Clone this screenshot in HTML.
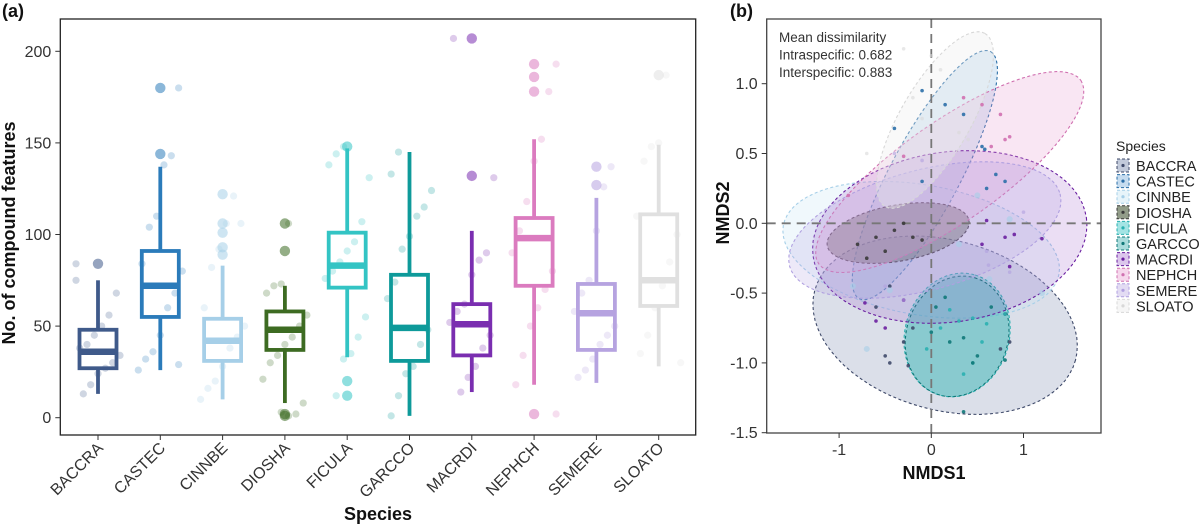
<!DOCTYPE html>
<html><head><meta charset="utf-8">
<style>
html,body{margin:0;padding:0;background:#fff;}
svg{display:block;font-family:"Liberation Sans",Arial,sans-serif;}
</style></head>
<body>
<svg id="fig" width="1200" height="526" viewBox="0 0 1200 526" xmlns="http://www.w3.org/2000/svg">
<g id="pa"></g>
<g id="pb"></g>
</svg>
<script>
const NS="http://www.w3.org/2000/svg";
// ---------- Panel (a) data ----------
const species=["BACCRA","CASTEC","CINNBE","DIOSHA","FICULA","GARCCO","MACRDI","NEPHCH","SEMERE","SLOATO"];
const colors=["#3f5a8a","#2b7bba","#a6cfe8","#3d6b22","#33c4c4","#0e9a9a","#7a2eb0","#db7bbf","#b6a3e0","#e0e0e0"];
const whiskHigh=[75,137,83,72,147,145,102,152,120,149];
const q3=[48,91,54,58,101,78,62,109,73,111];
const medians=[36,72,42,48,83,49,51,98,57,75];
const q1=[27,55,31,37,71,31,34,72,37,61];
const whiskLow=[13,26,10,8,33,1,14,18,19,28];
const outliers=[[84],[180,144],[122,106,101,93,89],[106,91,2,1],[148,20,12],[],[207,132],[193,186,178,2],[137,127],[187]];
const jitter=[[75,68,56,50,45,40,38,34,30,27,24,18,13,84],
[180,143,138,110,104,84,80,68,60,45,36,32,26,29],
[121,106,92,82,60,50,44,38,28,20,16,10,106],
[106,73,72,68,56,50,44,40,34,30,21,8,2,1,3],
[148,144,138,131,107,96,91,85,80,76,55,44,35,32,12],
[145,133,124,115,110,99,92,74,65,48,40,28,24,12,1],
[207,131,90,86,78,62,58,52,45,38,28,22,14],
[193,178,152,140,118,102,90,80,70,60,50,34,18,2],
[137,126,102,75,68,58,50,45,40,32,26,22],
[187,150,148,140,110,100,85,72,60,45,35,30]];
const yTicks=[0,50,100,150,200];
// ---------- Panel (b) data ----------
const nxTicks=[-1,0,1];
const nyTicks=[-1.5,-1.0,-0.5,0.0,0.5,1.0];
const ellCenters=[[0.15,-0.73],[-0.07,0.345],[-0.11,-0.19],[-0.36,-0.07],[0.28,-0.80],[0.28,-0.81],[0.20,-0.098],[0.20,0.367],[-0.07,-0.048],[0.04,0.74]];
const ellU=[[1.414,-0.25],[0.713,0.885],[1.495,-0.174],[0.769,0.09],[0.195,0.43],[0.19,0.42],[1.482,0.138],[1.421,0.657],[1.467,0.259],[0.542,0.62]];
const ellV=[[-0.239,-0.588],[0.335,-0.118],[-0.122,-0.458],[0.053,-0.198],[0.542,-0.107],[0.53,-0.10],[0.128,-0.603],[0.311,-0.294],[0.168,-0.415],[0.329,-0.125]];
const ellFill=["#5a6e9a","#5b9bd0","#c4e3f2","#4a5a3a","#33c4c4","#2aa8a8","#9b5cc8","#e89bd0","#b8a8e2","#eeeeee"];
const ellStroke=["#3f4a6a","#2b6fa8","#a6cfe8","#3a3a3a","#2ab0b0","#107878","#6a1fa0","#d070b0","#b0a0e0","#d8d8d8"];
const ellOpacity=[0.22,0.2,0.25,0.45,0.3,0.25,0.2,0.25,0.25,0.35];
const nmdsX=[[-0.45,-0.6,-0.2,-0.3,-0.45,0.8,0.85,0.75,-0.25,-0.5],
[-0.4,0.55,0.58,-0.1,0.15,-0.1,0.6,0.7,0.8,0.35],
[-0.7,-0.45,1.2,0.63,0.3,-0.85,0.5,0.85],
[-0.8,-0.6,-0.4,-0.2,-0.5,-0.3,-0.1,-0.7],
[0.1,0.3,0.45,0.6,0.55,0.35,0.2,0.8,0.45,-0.05],
[0.0,0.2,0.35,0.5,0.65,0.35,0.15,0.45,0.8,0.05],
[-0.72,-0.6,-0.5,-0.3,0.55,0.8,0.85,0.9,0.6,1.2],
[-0.9,0.75,0.8,0.85,0.65,0.55,0.35,-0.3],
[-0.5,-0.3,0.6,0.62,0.85,1.0,-0.1,-0.4],
[-0.2,0.1,0.3,0.4,-0.1,-0.7,0.0,-0.3]];
const nmdsY=[[-0.45,-0.6,-0.75,-0.85,-1.0,-0.65,-0.85,-0.9,-1.02,-0.95],
[0.68,0.55,0.53,0.95,0.85,0.3,0.25,0.35,0.3,0.78],
[-0.9,-0.48,-0.5,-0.4,-0.15,-0.45,0.2,0.03],
[-0.15,-0.1,-0.05,-0.1,-0.2,0.0,-0.12,-0.25],
[-0.75,-0.7,-0.68,-0.72,-0.85,-1.08,-0.62,-0.65,-1.0,-0.9],
[-0.78,-0.85,-0.82,-0.95,-0.6,-1.35,-0.53,-1.0,-0.98,-0.6],
[-0.57,-0.7,-0.75,-0.55,-0.15,-0.1,-0.31,-0.08,0.02,-0.11],
[0.2,0.78,0.6,0.62,0.55,0.85,0.9,0.48],
[-0.45,-0.55,-0.2,-0.3,-0.35,0.08,0.45,0.5],
[0.9,1.1,0.65,0.6,0.75,0.5,1.2,1.25]];
const legendTitle="Species";

const pa=document.getElementById('pa'), pb=document.getElementById('pb');
function mk(tag,attrs,parent,text){const e=document.createElementNS(NS,tag);for(const k in attrs)e.setAttribute(k,attrs[k]);if(text!==undefined)e.textContent=text;parent.appendChild(e);return e;}

// ---------- Panel (a) ----------
const A={l:60.3,r:695.7,t:19,b:435};
const ay=v=>417.7-v*1.832;
const ax=i=>98+i*62.3;
let t=mk('text',{x:2,y:17,'font-size':18,'font-weight':'bold',fill:'#111'},pa,'(a)');


let fr=mk('rect',{x:A.l,y:A.t,width:A.r-A.l,height:A.b-A.t,fill:'none',stroke:'#222','stroke-width':1.3},pa);


yTicks.forEach(v=>{
  mk('line',{x1:A.l-5,x2:A.l,y1:ay(v),y2:ay(v),stroke:'#333','stroke-width':1},pa);
  const tl=mk('text',{x:A.l-9,y:ay(v)+5.5,'font-size':16,'text-anchor':'end',fill:'#333'},pa,String(v));
  
  
});
species.forEach((s,i)=>{
  const x=ax(i),c=colors[i];
  const g=mk('g',{},pa);
  
  
  jitter[i].forEach((v,j)=>{
    const off=(((j*37+i*11)%13)/12-0.5)*44;
    mk('circle',{cx:x+off,cy:ay(v),r:3.6,fill:c,'fill-opacity':0.25},g);
  });
  outliers[i].forEach(v=>mk('circle',{cx:x,cy:ay(v),r:5.2,fill:c,'fill-opacity':0.55},g));
  mk('line',{x1:x,x2:x,y1:ay(whiskHigh[i]),y2:ay(q3[i]),stroke:c,'stroke-width':3.8},g);
  mk('line',{x1:x,x2:x,y1:ay(q1[i]),y2:ay(whiskLow[i]),stroke:c,'stroke-width':3.8},g);
  mk('rect',{x:x-18.5,y:ay(q3[i]),width:37,height:ay(q1[i])-ay(q3[i]),fill:'none',stroke:c,'stroke-width':3.8},g);
  mk('line',{x1:x-18.5,x2:x+18.5,y1:ay(medians[i]),y2:ay(medians[i]),stroke:c,'stroke-width':6.5},g);
  mk('line',{x1:x,x2:x,y1:A.b,y2:A.b+5,stroke:'#333','stroke-width':1},pa);
  const xl=mk('text',{x:x+6,y:A.b+14,'font-size':16,'text-anchor':'end',fill:'#333',transform:`rotate(-45 ${x+6} ${A.b+14})`},pa,s);
  
  
});
t=mk('text',{x:378,y:520,'font-size':18,'font-weight':'bold','text-anchor':'middle',fill:'#111'},pa,'Species');


t=mk('text',{x:0,y:0,'font-size':18,'font-weight':'bold','text-anchor':'middle',fill:'#111',transform:'translate(15 233) rotate(-90)'},pa,'No. of compound features');



// ---------- Panel (b) ----------
const B={l:766.7,r:1101,t:19,b:433};
const bx=v=>931.3+v*92.2;
const by=v=>223.3-v*139.6;
t=mk('text',{x:730,y:17,'font-size':18,'font-weight':'bold',fill:'#111'},pb,'(b)');


const clip=mk('clipPath',{id:'cb'},pb);
mk('rect',{x:B.l,y:B.t,width:B.r-B.l,height:B.b-B.t},clip);
const inner=mk('g',{'clip-path':'url(#cb)'},pb);
species.forEach((s,i)=>{
  let d='';
  for(let k=0;k<=72;k++){const a=k/72*2*Math.PI;
    const X=ellCenters[i][0]+ellU[i][0]*Math.cos(a)+ellV[i][0]*Math.sin(a);
    const Y=ellCenters[i][1]+ellU[i][1]*Math.cos(a)+ellV[i][1]*Math.sin(a);
    d+=(k?'L':'M')+bx(X).toFixed(1)+' '+by(Y).toFixed(1);}
  const e=mk('path',{d:d+'Z',fill:ellFill[i],'fill-opacity':ellOpacity[i],stroke:ellStroke[i],'stroke-width':1.1,'stroke-dasharray':'3 2.5'},inner);
  
  
});
mk('line',{x1:B.l,x2:B.r,y1:by(0),y2:by(0),stroke:'#777','stroke-width':1.8,'stroke-dasharray':'9 6'},inner);
mk('line',{x1:bx(0),x2:bx(0),y1:B.t,y2:B.b,stroke:'#777','stroke-width':1.8,'stroke-dasharray':'9 6'},inner);
species.forEach((s,i)=>{
  nmdsX[i].forEach((v,j)=>{
    mk('circle',{cx:bx(v),cy:by(nmdsY[i][j]),r:(i==2?3:1.8),fill:ellStroke[i],'fill-opacity':(i==2||i==9||i==8?0.6:0.9)},inner);
  });
});
fr=mk('rect',{x:B.l,y:B.t,width:B.r-B.l,height:B.b-B.t,fill:'none',stroke:'#444','stroke-width':1.3},pb);


nxTicks.forEach(v=>{
  mk('line',{x1:bx(v),x2:bx(v),y1:B.b,y2:B.b+5,stroke:'#333'},pb);
  const tl=mk('text',{x:bx(v),y:B.b+22,'font-size':16,'text-anchor':'middle',fill:'#333'},pb,String(v));
  
  
});
nyTicks.forEach(v=>{
  mk('line',{x1:B.l-5,x2:B.l,y1:by(v),y2:by(v),stroke:'#333'},pb);
  const tl=mk('text',{x:B.l-9,y:by(v)+5.5,'font-size':16,'text-anchor':'end',fill:'#333'},pb,v.toFixed(1));
  
  
});
t=mk('text',{x:934,y:479,'font-size':18,'font-weight':'bold','text-anchor':'middle',fill:'#111'},pb,'NMDS1');


t=mk('text',{x:0,y:0,'font-size':18,'font-weight':'bold','text-anchor':'middle',fill:'#111',transform:'translate(729 213) rotate(-90)'},pb,'NMDS2');


['Mean dissimilarity','Intraspecific: 0.682','Interspecific: 0.883'].forEach((s,k)=>{
  const a=mk('text',{x:779,y:42+k*17.5,'font-size':13.5,fill:'#333'},pb,s);
  
  
});
t=mk('text',{x:1116,y:151,'font-size':14,fill:'#222'},pb,legendTitle);


species.forEach((s,i)=>{
  const y=158+i*15.6;
  const g=mk('g',{},pb);
  
  
  mk('rect',{x:1117,y:y+1,width:12,height:13,fill:ellFill[i],'fill-opacity':Math.min(0.6,ellOpacity[i]+0.15),stroke:ellStroke[i],'stroke-dasharray':'3 2'},g);
  mk('circle',{cx:1123,cy:y+7.5,r:1.6,fill:ellStroke[i]},g);
  mk('text',{x:1136,y:y+13,'font-size':14.5,fill:'#222'},g,s);
});
</script>
</body></html>
